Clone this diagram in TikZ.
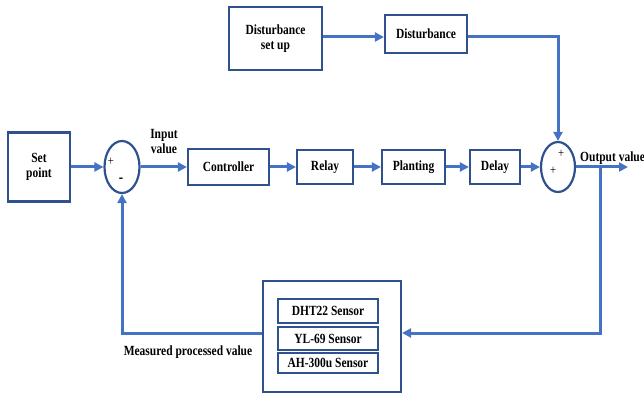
\documentclass[tikz,border=0pt]{standalone}
\usepackage{fontspec}
\setmainfont{Liberation Serif}[FakeStretch=0.82]
\usetikzlibrary{arrows.meta,shapes.geometric}
\definecolor{lineblue}{RGB}{68,114,196}
\definecolor{boxblue}{RGB}{47,82,143}
\tikzset{
	blk/.style={draw=boxblue, line width=2.2pt, fill=white, align=center, inner sep=0pt, font=\fontsize{14}{15}\selectfont\bfseries},
	sumnode/.style={draw=boxblue, line width=2.2pt, ellipse, inner sep=0pt},
	lbl/.style={align=center, inner sep=0pt, font=\fontsize{14}{15}\selectfont\bfseries},
	sgn/.style={inner sep=0pt, font=\fontsize{13}{14}\selectfont},
	wire/.style={draw=lineblue, line width=3pt},
	conn/.style={wire, -{Triangle[length=9pt,width=9pt]}}
}
\begin{document}
\begin{tikzpicture}[x=1pt, y=-1pt]
	\useasboundingbox (0,0) rectangle (644,395);
	\node[blk, minimum width=62pt, minimum height=69pt] (sp) at (39,167) {Set\\point};
	\node[sumnode, minimum width=35pt, minimum height=52pt] (sumL) at (122,167) {};
	\node[blk, minimum width=81pt, minimum height=36pt] (ctrl) at (228.5,167) {Controller};
	\node[blk, minimum width=56pt, minimum height=34pt] (relay) at (325,167) {Relay};
	\node[blk, minimum width=63pt, minimum height=34pt] (plant) at (413.5,167) {Planting};
	\node[blk, minimum width=50pt, minimum height=34pt] (delay) at (495,167) {Delay};
	\node[sumnode, minimum width=34pt, minimum height=50pt] (sumR) at (558,167) {};
	\node[blk, minimum width=93pt, minimum height=63pt] (dset) at (275.5,38.5) {Disturbance\\set up};
	\node[blk, minimum width=82pt, minimum height=38pt] (dist) at (426,34) {Disturbance};
	\node[blk, minimum width=138pt, minimum height=111pt] (sens) at (332,336.5) {};
	\node[blk, minimum width=100pt, minimum height=24pt] (dht) at (328,311) {DHT22 Sensor};
	\node[blk, minimum width=100pt, minimum height=23pt] (yl) at (328,338.5) {YL-69 Sensor};
	\node[blk, minimum width=100pt, minimum height=20pt] (ah) at (328,363) {AH-300u Sensor};
	\node[sgn] (pL) at (111,162) {+};
	\node[sgn] (mL) at (121,180) {\fontsize{16}{16}\selectfont\textbf{-}};
	\node[sgn] (pR1) at (561,154) {+};
	\node[sgn] (pR2) at (553,171) {+};
	\node[lbl] (inval) at (164,142) {Input\\value};
	\node[lbl, anchor=west] (outval) at (580,158) {Output value};
	\node[lbl] (meas) at (188,352) {Measured processed value};
	\coordinate (out) at (628,167);
	\coordinate (br) at (600,167);
	\draw[conn] (sp.east) -- (sumL.west);
	\draw[conn] (sumL.east) -- (ctrl.west);
	\draw[conn] (ctrl.east) -- (relay.west);
	\draw[conn] (relay.east) -- (plant.west);
	\draw[conn] (plant.east) -- (delay.west);
	\draw[conn] (delay.east) -- (sumR.west);
	\draw[conn] (sumR.east |- out) -- (out);
	\draw[conn] (dset.east |- 0,37) -- (dist.west |- 0,37);
	\draw[conn] (dist.east |- 0,37) -| (sumR.north);
	\draw[conn] (br) |- ([yshift=3.5pt]sens.east);
	\draw[conn] ([yshift=3.5pt]sens.west) -| (sumL.south);
\end{tikzpicture}
\end{document}
